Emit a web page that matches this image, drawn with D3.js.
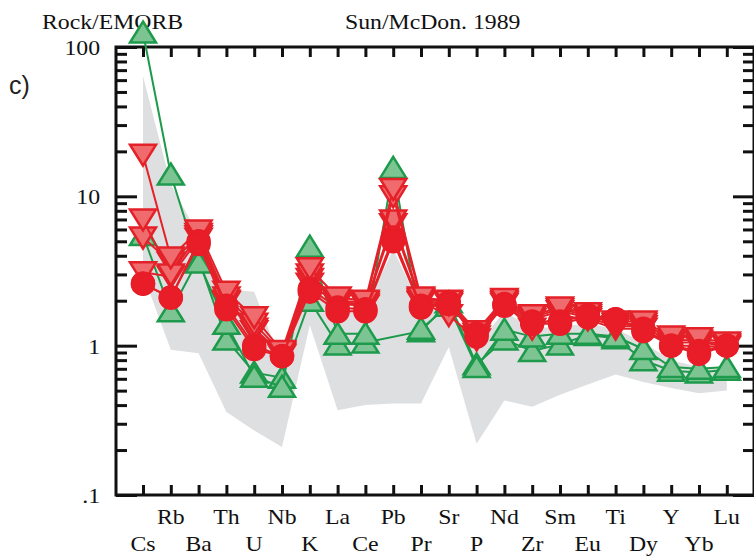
<!DOCTYPE html>
<html>
<head>
<meta charset="utf-8">
<script src="https://cdn.jsdelivr.net/npm/d3@7"></script>
<style>
  html, body { margin: 0; padding: 0; background: #fff; }
  svg { display: block; }
</style>
</head>
<body>
<svg id="chart" width="754" height="558"></svg>
<script>
// Elements of the Sun & McDonough (1989) multi-element diagram, normalised to E-MORB
const elements = ["Cs","Rb","Ba","Th","U","Nb","K","La","Ce","Pb","Pr","Sr","P","Nd","Zr","Sm","Eu","Ti","Dy","Y","Yb","Lu"];

// Samples plotted with green up-triangles
const greenA = [125, 14, 3.6, 1.4, 0.62, 0.53, 4.6, 1.2, 1.2, 15.5, 1.3, 1.85, 0.72, 1.28, 1.15, 1.2, 1.2, 1.15, 0.95, 0.72, 0.7, 0.72];
const greenB = [5.5, 1.7, 3.8, 1.1, 0.66, 0.61, 2.0, 1.02, 1.05, null, 1.25, 1.95, 0.75, 1.1, 0.92, 1.02, 1.18, 1.12, 0.8, 0.68, 0.66, 0.69];

// Samples plotted with red down-triangles
const redTriA = [19, 3.9, 5.9, 2.3, 1.55, 0.92, 3.3, 2.1, 2.0, 11.2, 2.1, 2.0, 1.25, 2.05, 1.6, 1.8, 1.65, 1.45, 1.45, 1.15, 1.12, 1.05];
const redTriB = [7, 3.0, 5.6, 2.1, 1.4, 0.9, 3.0, 2.0, 1.95, 10.0, 2.05, 1.95, 1.2, 2.0, 1.55, 1.75, 1.6, 1.4, 1.4, 1.1, 1.08, 1.02];
const redTriC = [5.3, 3.6, 5.4, 2.0, 1.3, 0.88, 2.8, 1.95, 1.9, 6.9, 2.0, 1.9, 1.15, 1.95, 1.5, 1.7, 1.55, 1.35, 1.35, 1.05, 1.05, 1.0];
const redTriD = [3.1, 2.9, 5.2, 1.95, 1.25, 0.86, 2.6, 1.9, 1.85, 6.5, 1.95, 1.6, 1.1, 1.9, 1.3, 1.6, 1.5, 1.3, 1.3, 1.0, 1.0, 0.98];

// Samples plotted with red circles
const redDotA = [2.6, 2.1, 4.8, 1.75, 0.95, 0.85, 2.3, 1.7, 1.7, 5.0, 1.8, 1.9, 1.15, 1.85, 1.4, 1.4, 1.55, 1.5, 1.25, 1.0, 0.88, 1.0];
const redDotB = [2.6, 2.1, 5.0, 1.85, 1.0, 0.85, 2.4, 1.8, 1.75, 5.3, 1.85, 1.95, 1.2, 1.9, 1.45, 1.45, 1.6, 1.5, 1.3, 1.0, 0.92, 1.0];

// Reference field (grey envelope): upper and lower limits
const fieldUpper = [64, 12, 5.5, 2.4, 2.3, 0.75, 3.0, 1.8, 1.8, 4.4, 1.8, 1.8, 1.0, 1.7, 1.3, 1.35, 1.4, 1.3, 1.05, 0.8, 0.72, 0.72];
const fieldLower = [3.0, 0.94, 0.89, 0.36, 0.27, 0.21, 1.37, 0.37, 0.40, 0.41, 0.41, 0.98, 0.22, 0.43, 0.39, 0.47, 0.55, 0.64, 0.57, 0.52, 0.48, 0.5];

// Axis labels
const yTickLabels = [".1", "1", "10", "100"];
const yTickValues = [0.1, 1, 10, 100];

const svg = d3.select("#chart");
const plotLeft = 116, plotRight = 754, plotTop = 47, plotBottom = 495;

const x = d3.scaleLinear().domain([0, elements.length + 1]).range([115.2, 754.6]);
const y = d3.scaleLog().domain([0.1, 100]).range([plotBottom, plotTop]);
const xi = i => x(i + 1);

const serif = "'Liberation Serif', 'Times New Roman', serif";
const stretch = 1.08;

function label(g, txt, px, py, anchor, size, family) {
  return g.append("text")
    .attr("transform", `translate(${px},${py}) scale(${stretch},1)`)
    .attr("text-anchor", anchor)
    .attr("font-family", family || serif)
    .attr("font-size", size)
    .attr("fill", "#111")
    .text(txt);
}

// ---- grey reference field ----
const fieldPts = elements.map((e, i) => [xi(i), y(fieldUpper[i])])
  .concat(elements.map((e, i) => [xi(i), y(fieldLower[i])]).reverse());
svg.append("path")
  .attr("d", d3.line()(fieldPts) + "Z")
  .attr("fill", "#dedfe0")
  .attr("stroke", "none");

// ---- frame & axes ----
const minorY = [];
for (let d = 0.1; d < 100; d *= 10) {
  for (let k = 2; k <= 9; k++) minorY.push(+(d * k).toPrecision(3));
}

function yAxis(gen, px, len, values) {
  const g = svg.append("g")
    .attr("transform", `translate(${px},0)`)
    .call(gen(y).tickValues(values).tickSize(len).tickSizeOuter(0).tickFormat(""));
  g.select(".domain").remove();
  g.selectAll(".tick line").attr("stroke", "#111").attr("stroke-width", 3);
}
yAxis(d3.axisRight, plotLeft, 11, minorY);
yAxis(d3.axisRight, plotLeft, 21, yTickValues);
yAxis(d3.axisLeft, plotRight, 11, minorY);
yAxis(d3.axisLeft, plotRight, 21, yTickValues);

function xAxis(gen, py) {
  const g = svg.append("g")
    .attr("transform", `translate(0,${py})`)
    .call(gen(x).tickValues(d3.range(1, elements.length + 1)).tickSize(10).tickSizeOuter(0).tickFormat(""));
  g.select(".domain").remove();
  g.selectAll(".tick line").attr("stroke", "#111").attr("stroke-width", 3);
}
xAxis(d3.axisBottom, plotTop);
xAxis(d3.axisTop, plotBottom);

svg.append("rect")
  .attr("x", plotLeft).attr("y", plotTop)
  .attr("width", plotRight - plotLeft).attr("height", plotBottom - plotTop)
  .attr("fill", "none").attr("stroke", "#111").attr("stroke-width", 3);

// ---- labels ----
const labels = svg.append("g");
yTickValues.forEach((v, i) => label(labels, yTickLabels[i], 100, y(v) + 8, "end", 22));
elements.forEach((e, i) => {
  const row = i % 2 === 1 ? 524 : 551;
  label(labels, e, xi(i), row, "middle", 22);
});
label(labels, "Rock/EMORB", 42, 29, "start", 22);
label(labels, "Sun/McDon. 1989", 345, 29, "start", 22);
svg.append("text")
  .attr("x", 9).attr("y", 94)
  .attr("font-family", "'Liberation Sans', Arial, sans-serif")
  .attr("font-size", 25)
  .attr("fill", "#222")
  .text("c)");

// ---- sample series ----
const lineGen = d3.line().x(d => xi(d.i)).y(d => y(d.v));

const upTri = "M0,-11 L13,10 L-13,10 Z";
const downTri = "M0,11 L13,-10 L-13,-10 Z";

function drawSeries(values, opts) {
  const pts = values.map((v, i) => ({ i, v })).filter(d => d.v != null);
  const g = svg.append("g");
  g.append("path")
    .attr("d", lineGen(pts))
    .attr("fill", "none")
    .attr("stroke", opts.line)
    .attr("stroke-width", 2);
  if (opts.shape === "circle") {
    g.selectAll("circle").data(pts).join("circle")
      .attr("cx", d => xi(d.i)).attr("cy", d => y(d.v)).attr("r", 11.5)
      .attr("fill", opts.fill).attr("stroke", opts.stroke).attr("stroke-width", 1.5);
  } else {
    g.selectAll("path.m").data(pts).join("path")
      .attr("class", "m")
      .attr("transform", d => `translate(${xi(d.i)},${y(d.v)})`)
      .attr("d", opts.shape === "up" ? upTri : downTri)
      .attr("fill", opts.fill).attr("stroke", opts.stroke)
      .attr("stroke-width", 2.5).attr("stroke-linejoin", "miter");
  }
}

const green = { shape: "up", line: "#1d9a4b", fill: "#7cc492", stroke: "#1d9a4b" };
const salmon = { shape: "down", line: "#e42129", fill: "#ef6b6d", stroke: "#e42129" };
const solid = { shape: "circle", line: "#e42129", fill: "#e81d28", stroke: "#e81d28" };

[greenB, greenA].forEach(s => drawSeries(s, green));
[redTriD, redTriC, redTriB, redTriA].forEach(s => drawSeries(s, salmon));
[redDotB, redDotA].forEach(s => drawSeries(s, solid));
</script>
</body>
</html>
